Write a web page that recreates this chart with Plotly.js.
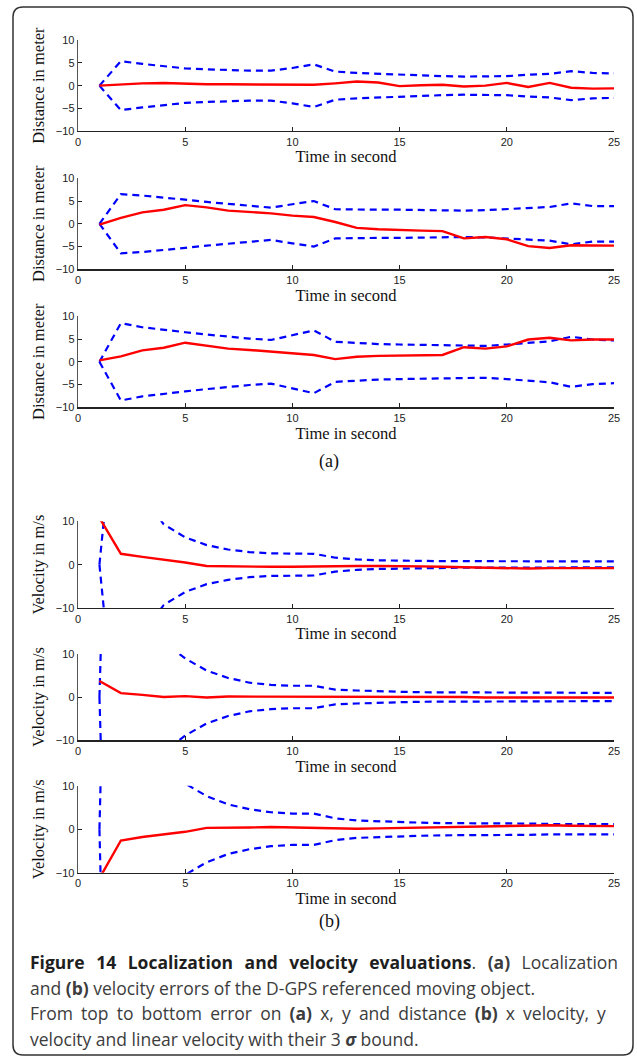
<!DOCTYPE html>
<html>
<head>
<meta charset="utf-8">
<script src="https://cdn.plot.ly/plotly-3.0.1.min.js"></script>
<style>html,body{margin:0;padding:0;background:#fff;}#chart{width:637px;height:1060px;}</style>
</head>
<body>
<div id="chart"></div>
<script>
// ---- data ----
const time = [1,2,3,4,5,6,7,8,9,10,11,12,13,14,15,16,17,18,19,20,21,22,23,24,25];

// (a) localization errors
const xError      = [0,0.3,0.5,0.6,0.4,0.3,0.3,0.3,0.2,0.3,0.2,0.5,0.9,0.7,-0.1,0.1,0.2,-0.2,0.0,0.6,-0.3,0.6,-0.45,-0.65,-0.6];
const xUpper      = [0,5.4,4.8,4.3,3.8,3.6,3.4,3.3,3.3,3.9,4.7,3.1,2.8,2.6,2.4,2.2,2.1,2.0,2.0,2.1,2.4,2.6,3.2,2.8,2.7];
const xLower      = [0,-5.4,-4.8,-4.3,-3.8,-3.6,-3.4,-3.3,-3.3,-3.9,-4.7,-3.1,-2.8,-2.6,-2.4,-2.2,-2.1,-2.0,-2.0,-2.1,-2.4,-2.6,-3.2,-2.8,-2.7];

const yError      = [-0.2,1.3,2.5,3.1,4.1,3.6,2.9,2.6,2.3,1.8,1.5,0.4,-0.9,-1.2,-1.4,-1.5,-1.6,-3.2,-2.9,-3.4,-4.9,-5.3,-4.7,-4.8,-4.8];
const yUpper      = [0,6.5,6.2,5.8,5.3,4.8,4.4,4.0,3.55,4.3,5.0,3.2,3.1,3.1,3.1,3.0,3.0,2.9,3.0,3.2,3.4,3.7,4.5,3.9,3.9];
const yLower      = [0,-6.5,-6.2,-5.8,-5.3,-4.8,-4.4,-4.0,-3.55,-4.3,-5.0,-3.2,-3.1,-3.1,-3.1,-3.0,-3.0,-2.9,-3.0,-3.2,-3.4,-3.7,-4.5,-3.9,-3.9];

const dError      = [0.3,1.2,2.5,3.1,4.2,3.6,2.9,2.6,2.2,1.8,1.5,0.6,1.1,1.3,1.4,1.4,1.5,3.2,2.9,3.4,4.9,5.3,4.7,4.9,4.9];
const dUpper      = [0,8.5,7.6,7.0,6.5,6.0,5.5,5.1,4.8,5.9,6.9,4.4,4.1,3.9,3.8,3.7,3.6,3.5,3.5,3.8,4.1,4.5,5.5,4.9,4.7];
const dLower      = [0,-8.5,-7.6,-7.0,-6.5,-6.0,-5.5,-5.1,-4.8,-5.9,-6.9,-4.4,-4.1,-3.9,-3.8,-3.7,-3.6,-3.5,-3.5,-3.8,-4.1,-4.5,-5.5,-4.9,-4.7];

// (b) velocity errors
const vxError     = [10.8,2.5,1.8,1.2,0.5,-0.3,-0.4,-0.4,-0.5,-0.5,-0.4,-0.3,-0.3,-0.3,-0.3,-0.4,-0.5,-0.6,-0.6,-0.7,-0.9,-0.8,-0.8,-0.8,-0.8];
const vxUpper     = [0,50,16,9.3,6.3,4.5,3.5,2.9,2.6,2.5,2.5,1.6,1.2,1.0,0.9,0.85,0.8,0.8,0.8,0.8,0.75,0.75,0.75,0.75,0.75];
const vxLower     = [0,-50,-16,-9.3,-6.3,-4.5,-3.5,-2.9,-2.6,-2.5,-2.5,-1.6,-1.2,-1.0,-0.9,-0.8,-0.75,-0.7,-0.7,-0.65,-0.65,-0.65,-0.65,-0.65,-0.65];

const vyError     = [3.7,0.9,0.5,0.0,0.2,-0.1,0.1,0.1,0.1,0.1,0.1,0.1,0.0,0.0,0.0,0.0,0.0,0.0,-0.1,-0.1,-0.1,-0.1,-0.1,-0.1,-0.1];
const vyUpper     = [0,170,40,12.6,8.9,6.1,4.4,3.3,2.8,2.6,2.6,1.7,1.5,1.3,1.2,1.1,1.1,1.0,1.0,1.0,0.95,0.95,0.95,0.95,0.95];
const vyLower     = [0,-170,-40,-12.6,-8.9,-6.1,-4.4,-3.3,-2.8,-2.6,-2.6,-1.7,-1.5,-1.3,-1.2,-1.1,-1.1,-1.0,-1.0,-1.0,-0.95,-0.95,-0.95,-0.95,-0.95];

const vError      = [-11.3,-2.6,-1.8,-1.2,-0.6,0.3,0.3,0.4,0.5,0.4,0.3,0.2,0.1,0.2,0.3,0.3,0.4,0.5,0.6,0.7,0.9,0.9,0.8,0.7,0.7];
const vUpper      = [0,200,60,20,10.5,7.6,5.7,4.6,3.9,3.6,3.6,2.5,2.0,1.8,1.6,1.5,1.4,1.4,1.3,1.3,1.3,1.2,1.2,1.2,1.2];
const vLower      = [0,-200,-60,-20,-10.5,-7.6,-5.7,-4.6,-3.9,-3.6,-3.6,-2.5,-2.0,-1.8,-1.6,-1.5,-1.4,-1.4,-1.3,-1.3,-1.3,-1.2,-1.2,-1.2,-1.2];

const xTickVals   = [0,5,10,15,20,25];
const distTicks   = [-10,-5,0,5,10];
const velTicks    = [-10,0,10];
const xTitle      = "Time in second";
const distTitle   = "Distance in meter";
const velTitle    = "Velocity in m/s";

// ---- layout ----
const W = 637, H = 1060;
const panels = [
  {err: xError,  up: xUpper,  lo: xLower,  ticks: distTicks, title: distTitle, top: 40.3,  bot: 131.0},
  {err: yError,  up: yUpper,  lo: yLower,  ticks: distTicks, title: distTitle, top: 178.3, bot: 269.3},
  {err: dError,  up: dUpper,  lo: dLower,  ticks: distTicks, title: distTitle, top: 316.3, bot: 407.3},
  {err: vxError, up: vxUpper, lo: vxLower, ticks: velTicks,  title: velTitle,  top: 521.3, bot: 608.0},
  {err: vyError, up: vyUpper, lo: vyLower, ticks: velTicks,  title: velTitle,  top: 653.7, bot: 740.3},
  {err: vError,  up: vUpper,  lo: vLower,  ticks: velTicks,  title: velTitle,  top: 785.7, bot: 872.7}
];
const px = v => v / W;
const py = v => 1 - v / H;

const data = [];
const layout = {
  width: W, height: H,
  margin: {l: 0, r: 0, t: 0, b: 0},
  paper_bgcolor: '#fff', plot_bgcolor: 'rgba(0,0,0,0)',
  showlegend: false,
  annotations: [], shapes: []
};
const tickFont = {family: 'Liberation Sans, Arial, sans-serif', size: 11, color: '#222'};
const titleFont = {family: 'Liberation Serif, Times New Roman, serif', size: 16.5, color: '#111'};

panels.forEach((p, i) => {
  const n = i + 1;
  const xa = n === 1 ? 'x' : 'x' + n;
  const ya = n === 1 ? 'y' : 'y' + n;
  const dashLine = {color: '#0000ff', width: 2.2, dash: '7px,5px'};
  data.push({x: time, y: p.up, xaxis: xa, yaxis: ya, mode: 'lines', line: dashLine, hoverinfo: 'skip'});
  data.push({x: time, y: p.lo, xaxis: xa, yaxis: ya, mode: 'lines', line: dashLine, hoverinfo: 'skip'});
  data.push({x: time, y: p.err, xaxis: xa, yaxis: ya, mode: 'lines', line: {color: '#ff0000', width: 2.4}, hoverinfo: 'skip'});
  const xKey = n === 1 ? 'xaxis' : 'xaxis' + n;
  const yKey = n === 1 ? 'yaxis' : 'yaxis' + n;
  layout[xKey] = {
    domain: [px(78), px(614)], anchor: ya, range: [0, 25],
    tickvals: xTickVals, ticks: 'inside', ticklen: 4, tickcolor: '#222',
    showline: true, linecolor: '#222', linewidth: 1.3, mirror: false,
    showgrid: false, zeroline: false, tickfont: tickFont,
    title: {text: xTitle, font: titleFont, standoff: 4}
  };
  layout[yKey] = {
    domain: [py(p.bot), py(p.top)], anchor: xa, range: [-10, 10],
    tickvals: p.ticks, ticks: 'inside', ticklen: 4, tickcolor: '#222',
    showline: true, linecolor: '#555', linewidth: 1.3, mirror: false,
    showgrid: false, zeroline: false, tickfont: tickFont,
    title: {text: p.title, font: titleFont, standoff: 7}
  };
});

// sub-figure labels
layout.annotations.push({xref: 'paper', yref: 'paper', x: px(329), y: py(461.5), text: '(a)', showarrow: false,
  xanchor: 'center', yanchor: 'middle', font: {family: 'Liberation Serif, serif', size: 18, color: '#111'}});
layout.annotations.push({xref: 'paper', yref: 'paper', x: px(329), y: py(921.5), text: '(b)', showarrow: false,
  xanchor: 'center', yanchor: 'middle', font: {family: 'Liberation Serif, serif', size: 18, color: '#111'}});

// caption (lines 1 and 3 are justified in the original -> extra word spacing)
const capFont = {family: 'Open Sans, Noto Sans, sans-serif', size: 17.5, color: '#3c3c3c'};
const capLines = [
  '<span style="word-spacing:7px"><b style="color:#1e1e1e">Figure 14 Localization and velocity evaluations</b>. <b>(a)</b> Localization</span>',
  'and <b>(b)</b> velocity errors of the D-GPS referenced moving object.',
  '<span style="word-spacing:3.6px">From top to bottom error on <b>(a)</b> x, y and distance <b>(b)</b> x velocity, y</span>',
  'velocity and linear velocity with their 3 <b><i>σ</i></b> bound.'
];
const capY = [961.7, 987.7, 1013.3, 1039.0];
capLines.forEach((t, k) => {
  layout.annotations.push({xref: 'paper', yref: 'paper', x: px(28), y: py(capY[k]), text: t, showarrow: false,
    xanchor: 'left', yanchor: 'middle', align: 'left', font: capFont});
});

// rounded frame
const L = 13, T = 7, R = 633, B = 1055, r = 10;
const P = (a, b) => px(a) + ',' + py(b);
layout.shapes.push({
  type: 'path', xref: 'paper', yref: 'paper', layer: 'below',
  path: 'M' + P(L + r, T) + ' L' + P(R - r, T) + ' Q' + P(R, T) + ' ' + P(R, T + r) +
        ' L' + P(R, B - r) + ' Q' + P(R, B) + ' ' + P(R - r, B) +
        ' L' + P(L + r, B) + ' Q' + P(L, B) + ' ' + P(L, B - r) +
        ' L' + P(L, T + r) + ' Q' + P(L, T) + ' ' + P(L + r, T) + ' Z',
  line: {color: '#333', width: 1.5}
});

Plotly.newPlot('chart', data, layout, {staticPlot: true, displayModeBar: false});
</script>
</body>
</html>
